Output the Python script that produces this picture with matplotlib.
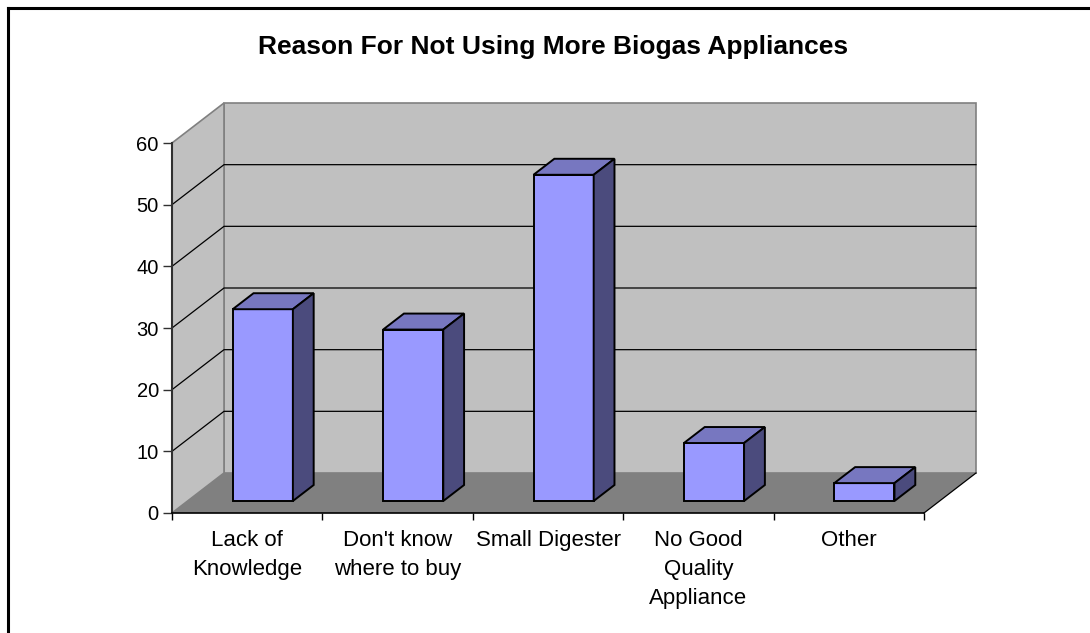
import numpy as np
import matplotlib
matplotlib.use("Agg")
import matplotlib.pyplot as plt
from matplotlib.patches import Polygon
from matplotlib.lines import Line2D

plt.rcParams['font.family'] = ['Liberation Sans', 'DejaVu Sans']

# data
categories = ["Lack of\nKnowledge", "Don't know\nwhere to buy", "Small Digester",
              "No Good\nQuality\nAppliance", "Other"]
values = [31.1, 27.8, 52.9, 9.4, 2.9]
yticks = [0, 10, 20, 30, 40, 50, 60]
title = "Reason For Not Using More Biogas Appliances"

W, H = 1090, 633
fig = plt.figure(figsize=(W / 100, H / 100), dpi=100)
ax = fig.add_axes([172 / W, (H - 513) / H, 752 / W, 370 / H])
n = len(categories)
ymax = yticks[-1]
ax.set_xlim(0, n)
ax.set_ylim(0, ymax)

# oblique depth offset (full depth), in data units
DX = 52 / (752 / n)
DY = 40 / (370 / ymax)


def P(x, v, d):
    return (x + d * DX, v + d * DY)


def face(pts, fc, ec, lw=1.0, z=1):
    ax.add_patch(Polygon(pts, closed=True, facecolor=fc, edgecolor=ec,
                         linewidth=lw, clip_on=False, zorder=z))


wall = '#C0C0C0'
floor = '#808080'
# back wall, side wall, floor
face([P(0, 0, 1), P(n, 0, 1), P(n, ymax, 1), P(0, ymax, 1)], wall, '#808080', 1.2)
face([P(0, 0, 0), P(0, 0, 1), P(0, ymax, 1), P(0, ymax, 0)], wall, '#808080', 1.2)
face([P(0, 0, 0), P(n, 0, 0), P(n, 0, 1), P(0, 0, 1)], floor, 'none', 0)

# gridlines
for v in yticks[1:-1]:
    xs, ys = zip(P(0, v, 0), P(0, v, 1), P(n, v, 1))
    ax.add_line(Line2D(xs, ys, color='black', lw=0.9, clip_on=False, zorder=1.5))
xs, ys = zip(P(n, 0, 0), P(n, 0, 1))
ax.add_line(Line2D(xs, ys, color='black', lw=0.9, clip_on=False, zorder=1.5))

# 3D bars
d0, d1 = 0.3, 0.7
for i, v in enumerate(values):
    x0, x1 = i + 0.3, i + 0.7
    face([P(x0, 0, d0), P(x1, 0, d0), P(x1, v, d0), P(x0, v, d0)], '#9999FF', 'black', 1.4, 3)
    face([P(x0, v, d0), P(x1, v, d0), P(x1, v, d1), P(x0, v, d1)], '#7777C0', 'black', 1.4, 3)
    face([P(x1, 0, d0), P(x1, 0, d1), P(x1, v, d1), P(x1, v, d0)], '#4B4B7D', 'black', 1.4, 3)

ax.set_facecolor('none')
for s in ['top', 'right']:
    ax.spines[s].set_visible(False)
ax.spines['left'].set_color('#303030')
ax.spines['left'].set_linewidth(1.5)
ax.spines['bottom'].set_color('black')
ax.spines['bottom'].set_linewidth(1.2)
ax.spines['left'].set_zorder(4)
ax.spines['bottom'].set_zorder(4)

ax.set_yticks(yticks)
ax.set_yticklabels([str(t) for t in yticks], fontsize=14.5)
ax.tick_params(axis='y', direction='out', length=6.5, width=1, pad=3, color='#303030')
ax.set_xticks(np.arange(n + 1))
ax.set_xticklabels([])
ax.tick_params(axis='x', which='major', direction='out', length=5, width=1)
ax.set_xticks(np.arange(n) + 0.5, minor=True)
ax.set_xticklabels(categories, minor=True, fontsize=16, linespacing=1.5, va='top')
ax.tick_params(axis='x', which='minor', length=0, pad=12)

fig.text(553 / W, 1 - 47 / H, title, fontsize=19, fontweight='bold',
         ha='center', va='center')

# chart border (cut off at right and bottom)
fig.add_artist(Line2D([8 / W, 8 / W], [0, 1 - 8 / H], color='black', lw=2.2,
                      transform=fig.transFigure))
fig.add_artist(Line2D([8 / W, 1], [1 - 8 / H, 1 - 8 / H], color='black', lw=2.2,
                      transform=fig.transFigure))

fig.savefig('out.png', dpi=100, facecolor='white')
